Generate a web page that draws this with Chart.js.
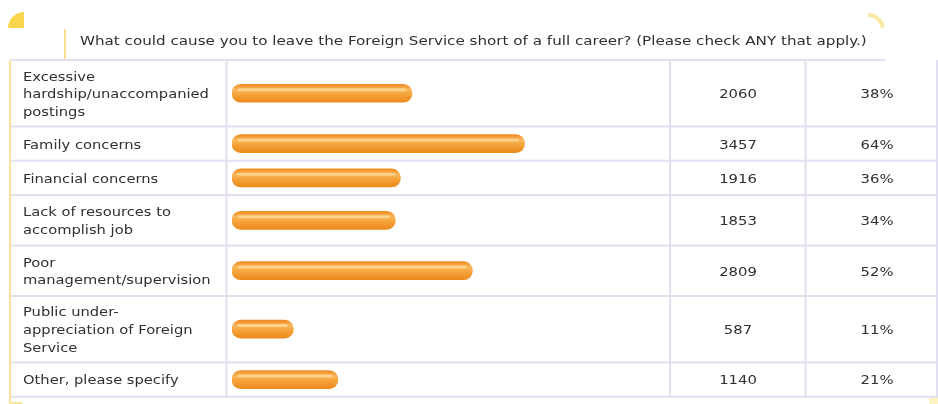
<!DOCTYPE html>
<html>
<head>
<meta charset="utf-8">
<title>Foreign Service survey</title>
<script src="https://cdn.jsdelivr.net/npm/chart.js@4/dist/chart.umd.min.js"></script>
<style>
  html, body { margin: 0; padding: 0; background: #fff; }
  #wrap { position: relative; width: 938px; height: 404px; }
</style>
</head>
<body>
<div id="wrap"><canvas id="chart" width="938" height="404"></canvas></div>
<script>
const title = 'What could cause you to leave the Foreign Service short of a full career? (Please check ANY that apply.)';
const reasons = [
  ['Excessive', 'hardship/unaccompanied', 'postings'],
  ['Family concerns'],
  ['Financial concerns'],
  ['Lack of resources to', 'accomplish job'],
  ['Poor', 'management/supervision'],
  ['Public under-', 'appreciation of Foreign', 'Service'],
  ['Other, please specify']
];
const counts = [2060, 3457, 1916, 1853, 2809, 587, 1140];
const percents = [38, 64, 36, 34, 52, 11, 21];

// layout
const W = 938, H = 404;
const tableTop = 60;
const rowPad = 18.2, lineH = 16.1;
const colBar = 226.5, colCount = 670, colPct = 805.5, colEnd = 937;
const font = '13px "DejaVu Sans", Verdana, sans-serif';
const ink = '#303030';
const rule = '#e1e0f1';
const capUnits = 175;

let rowTops = [];
let acc = 0;
reasons.forEach((r) =>
{
  rowTops.push(acc);
  acc += rowPad + lineH * r.length;
});
const tableH = acc;
const centers = reasons.map((r, i) => rowTops[i] + (rowPad + lineH * r.length) / 2);

// wide text, the original face is broader than DejaVu
function wideText(ctx, text, x, y, sx)
{
  ctx.save();
  ctx.translate(x, y);
  ctx.scale(sx, 1);
  ctx.fillText(text, 0, 0);
  ctx.restore();
}

// {{{ table plugin
const tablePlugin =
{
  id: 'table',
  beforeDatasetsDraw(chart)
  {
    const ctx = chart.ctx;
    const ys = chart.scales.y;
    const top = ys.getPixelForValue(0);
    const bottom = ys.getPixelForValue(tableH);
    ctx.save();
    // decorations
    ctx.fillStyle = '#f8d54c';
    ctx.beginPath();
    ctx.moveTo(24, 28);
    ctx.lineTo(8, 28);
    ctx.arc(24, 28, 16, Math.PI, Math.PI * 1.5);
    ctx.closePath();
    ctx.fill();
    ctx.strokeStyle = '#f7eba6';
    ctx.lineWidth = 4;
    ctx.beginPath();
    ctx.arc(868, 30, 15, Math.PI * 1.5, Math.PI * 1.95);
    ctx.stroke();
    ctx.fillStyle = '#fbf3c4';
    ctx.fillRect(929, 397, 9, 7);
    ctx.strokeStyle = '#fbe290';
    ctx.lineWidth = 2;
    ctx.beginPath();
    ctx.moveTo(65, 29);
    ctx.lineTo(65, top);
    ctx.stroke();
    // title
    ctx.fillStyle = ink;
    ctx.font = font;
    ctx.textBaseline = 'middle';
    ctx.textAlign = 'left';
    wideText(ctx, title, 80, 42, 1.165);
    // rules
    ctx.strokeStyle = rule;
    ctx.lineWidth = 2;
    ctx.beginPath();
    ctx.moveTo(10, top);
    ctx.lineTo(885, top);
    rowTops.slice(1).forEach((t) =>
    {
      const y = ys.getPixelForValue(t);
      ctx.moveTo(10, y);
      ctx.lineTo(W, y);
    });
    ctx.moveTo(10, bottom);
    ctx.lineTo(W, bottom);
    [colBar, colCount, colPct, colEnd].forEach((x) =>
    {
      ctx.moveTo(x, top);
      ctx.lineTo(x, bottom);
    });
    ctx.stroke();
    ctx.strokeStyle = '#fbe59c';
    ctx.beginPath();
    ctx.moveTo(10, top);
    ctx.lineTo(10, 403);
    ctx.lineTo(22, 403);
    ctx.stroke();
    // cells
    ctx.fillStyle = ink;
    reasons.forEach((r, i) =>
    {
      const cy = ys.getPixelForValue(centers[i]) + 1.5;
      const y0 = cy - (r.length - 1) * 17.6 / 2;
      ctx.textAlign = 'left';
      r.forEach((line, j) =>
      {
        wideText(ctx, line, 23, y0 + j * 17.6, 1.13);
      });
      ctx.textAlign = 'center';
      wideText(ctx, String(counts[i]), 738, cy, 1.14);
      wideText(ctx, percents[i] + '%', 877, cy, 1.14);
    });
    ctx.restore();
  },
  afterDatasetsDraw(chart)
  {
    const ctx = chart.ctx;
    ctx.save();
    chart.getDatasetMeta(0).data.forEach((bar) =>
    {
      const p = bar.getProps(['x', 'y', 'base', 'height'], true);
      const l = Math.min(p.x, p.base) + 7;
      const r = Math.max(p.x, p.base) - 7;
      ctx.strokeStyle = 'rgba(255, 222, 160, 0.7)';
      ctx.lineWidth = 3;
      ctx.lineCap = 'round';
      ctx.beginPath();
      ctx.moveTo(l, p.y - p.height * 0.2);
      ctx.lineTo(r, p.y - p.height * 0.2);
      ctx.stroke();
    });
    ctx.restore();
  }
};
// }}}

const barFill = (context) =>
{
  const chart = context.chart;
  const ys = chart.scales.y;
  const y = (ys && context.parsed) ? ys.getPixelForValue(context.parsed.y) : NaN;
  if (!Number.isFinite(y))
  {
    return '#f39a2c';
  }
  const g = chart.ctx.createLinearGradient(0, y - 9, 0, y + 9);
  g.addColorStop(0, '#ee8b1f');
  g.addColorStop(0.3, '#fab85e');
  g.addColorStop(0.55, '#f5a43c');
  g.addColorStop(1, '#ec8a1e');
  return g;
};

new Chart(document.getElementById('chart'),
{
  type: 'bar',
  data:
  {
    datasets: [{
      data: counts.map((v, i) => ({x: v, y: centers[i]})),
      backgroundColor: barFill,
      borderWidth: 0,
      borderRadius: 9,
      borderSkipped: false,
      barThickness: 18,
      base: -capUnits
    }]
  },
  options:
  {
    indexAxis: 'y',
    responsive: false,
    animation: false,
    layout: {padding: {left: 232, right: 273, top: tableTop, bottom: H - tableTop - tableH}},
    scales:
    {
      x: {type: 'linear', min: -capUnits, max: 5200, offset: false, display: false},
      y: {type: 'linear', min: 0, max: tableH, reverse: true, offset: false, display: false}
    },
    plugins: {legend: {display: false}, tooltip: {enabled: false}}
  },
  plugins: [tablePlugin]
});
</script>
</body>
</html>
